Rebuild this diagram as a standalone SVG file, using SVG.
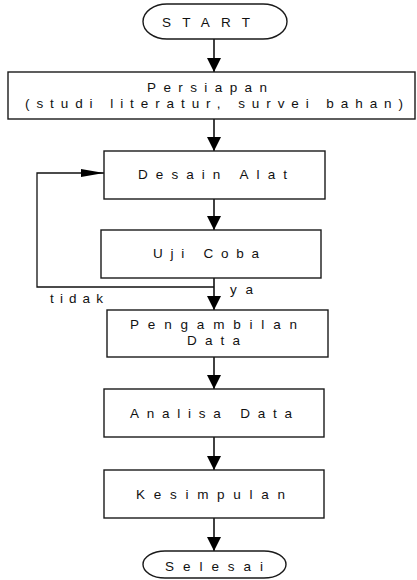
<svg xmlns="http://www.w3.org/2000/svg" width="417" height="580" viewBox="0 0 417 580">
  <style>
    .box { fill: #ffffff; stroke: #1a1a1a; stroke-width: 1.4; }
    .term { fill: #ffffff; stroke: #1a1a1a; stroke-width: 1.4; }
    .lbl { font-family: "Liberation Sans", Arial, sans-serif; font-size: 13.5px; fill: #111111; }
    .flow { fill: none; stroke: #111111; stroke-width: 1.6; }
    .loop { fill: none; stroke: #111111; stroke-width: 1.3; }
  </style>
  <defs>
    <marker id="head" markerUnits="userSpaceOnUse" markerWidth="16" markerHeight="14" refX="14" refY="7" orient="auto">
      <path d="M0,0 L14,7 L0,14 Z" fill="#000000"/>
    </marker>
    <marker id="thin" markerUnits="userSpaceOnUse" markerWidth="24" markerHeight="8" refX="23" refY="4" orient="auto">
      <path d="M0,0 L23,4 L0,8 Z" fill="#000000"/>
    </marker>
  </defs>

  <!-- connectors -->
  <g id="connectors">
    <line class="flow" x1="214" y1="39" x2="214" y2="72" marker-end="url(#head)"/>
    <line class="flow" x1="214" y1="119" x2="214" y2="151" marker-end="url(#head)"/>
    <line class="flow" x1="214" y1="199" x2="214" y2="230" marker-end="url(#head)"/>
    <line class="flow" x1="214" y1="278" x2="214" y2="310" marker-end="url(#head)"/>
    <line class="flow" x1="214" y1="357" x2="214" y2="389" marker-end="url(#head)"/>
    <line class="flow" x1="214" y1="437" x2="214" y2="470" marker-end="url(#head)"/>
    <line class="flow" x1="214" y1="518" x2="214" y2="551" marker-end="url(#head)"/>
    <polyline class="loop" points="214,287 37,287 37,173 104,173" marker-end="url(#thin)"/>
    <text class="lbl" x="230" y="294" textLength="23" lengthAdjust="spacing">ya</text>
    <text class="lbl" x="50" y="303" textLength="53" lengthAdjust="spacing">tidak</text>
  </g>

  <g id="start">
    <rect class="term" x="143" y="4" width="144" height="35" rx="24" ry="17.5"/>
    <text class="lbl" x="162" y="27" textLength="88" lengthAdjust="spacing">START</text>
  </g>

  <g id="persiapan">
    <rect class="box" x="8" y="72" width="407" height="47"/>
    <text class="lbl" x="147" y="92" textLength="120" lengthAdjust="spacing">Persiapan</text>
    <text class="lbl" x="25" y="108" textLength="378" lengthAdjust="spacing">(studi literatur, survei bahan)</text>
  </g>

  <g id="desain-alat">
    <rect class="box" x="104" y="151" width="221" height="48"/>
    <text class="lbl" x="138" y="179" textLength="149" lengthAdjust="spacing">Desain Alat</text>
  </g>

  <g id="uji-coba">
    <rect class="box" x="101" y="230" width="220" height="48"/>
    <text class="lbl" x="153" y="258" textLength="106" lengthAdjust="spacing">Uji Coba</text>
  </g>

  <g id="pengambilan-data">
    <rect class="box" x="107" y="310" width="221" height="47"/>
    <text class="lbl" x="130" y="329" textLength="167" lengthAdjust="spacing">Pengambilan</text>
    <text class="lbl" x="187" y="345" textLength="53" lengthAdjust="spacing">Data</text>
  </g>

  <g id="analisa-data">
    <rect class="box" x="104" y="389" width="220" height="48"/>
    <text class="lbl" x="130" y="418" textLength="162" lengthAdjust="spacing">Analisa Data</text>
  </g>

  <g id="kesimpulan">
    <rect class="box" x="104" y="470" width="220" height="48"/>
    <text class="lbl" x="136" y="499" textLength="149" lengthAdjust="spacing">Kesimpulan</text>
  </g>

  <g id="selesai">
    <rect class="term" x="143" y="551" width="143" height="27" rx="22" ry="13.5"/>
    <text class="lbl" x="165" y="571" textLength="98" lengthAdjust="spacing">Selesai</text>
  </g>
</svg>
